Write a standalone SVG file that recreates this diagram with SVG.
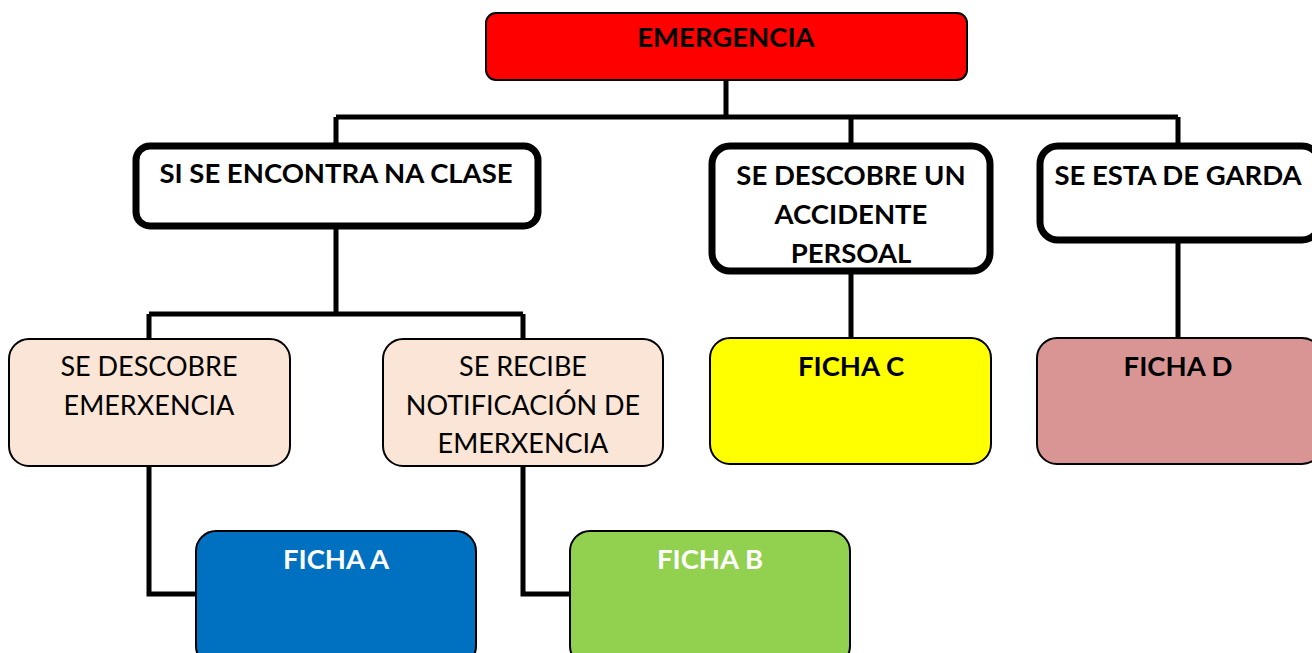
<svg xmlns="http://www.w3.org/2000/svg" width="1312" height="653" viewBox="0 0 1312 653">
<style>
.t{font-family:Lato,"Liberation Sans",sans-serif;font-size:27.5px;text-anchor:middle}
.b{font-weight:bold;fill:#000}
.w{font-weight:bold;fill:#fff}
.r{font-weight:normal;fill:#000;font-size:27px}
.thick{fill:#fff;stroke:#000;stroke-width:7}
.thin{stroke:#000;stroke-width:2}
.conn{fill:none;stroke:#000;stroke-width:5}
</style>
<rect width="1312" height="653" fill="#fff"/>
<g id="connectors">
<path class="conn" d="M726 80 V117 M336 117 H1178 M336 117 V145 M851 117 V145 M1178 117 V145"/>
<path class="conn" d="M336 228 V314 M149 314 H523 M149 314 V340 M523 314 V340"/>
<path class="conn" d="M851 273 V340 M1178 242 V340"/>
<path class="conn" d="M149 466 V594 H198 M523 466 V594 H572"/>
</g>
<g id="emergencia">
<rect x="486" y="13" width="481" height="67" rx="10" fill="#ff0000" class="thin"/>
<text class="t b" x="726" y="47">EMERGENCIA</text>
</g>
<g id="clase">
<rect x="136" y="146" width="402" height="80" rx="14" class="thick"/>
<text class="t b" x="336" y="183">SI SE ENCONTRA NA CLASE</text>
</g>
<g id="accidente">
<rect x="712" y="146" width="278" height="125" rx="18" class="thick"/>
<text class="t b" x="851" y="185">SE DESCOBRE UN</text>
<text class="t b" x="851" y="224">ACCIDENTE</text>
<text class="t b" x="851" y="263">PERSOAL</text>
</g>
<g id="garda">
<rect x="1040" y="146" width="280" height="94" rx="18" class="thick"/>
<text class="t b" x="1178" y="185">SE ESTA DE GARDA</text>
</g>
<g id="descobre">
<rect x="9" y="339" width="281" height="127" rx="20" fill="#fbe5d6" class="thin"/>
<text class="t r" x="149" y="376">SE DESCOBRE</text>
<text class="t r" x="149" y="415">EMERXENCIA</text>
</g>
<g id="recibe">
<rect x="383" y="339" width="280" height="127" rx="20" fill="#fbe5d6" class="thin"/>
<text class="t r" x="523" y="376">SE RECIBE</text>
<text class="t r" x="523" y="415">NOTIFICACIÓN DE</text>
<text class="t r" x="523" y="453">EMERXENCIA</text>
</g>
<g id="fichaC">
<rect x="710" y="338" width="281" height="126" rx="20" fill="#ffff00" class="thin"/>
<text class="t b" x="851" y="376">FICHA C</text>
</g>
<g id="fichaD">
<rect x="1037" y="338" width="285" height="126" rx="20" fill="#d99594" class="thin"/>
<text class="t b" x="1178" y="376">FICHA D</text>
</g>
<g id="fichaA">
<rect x="196" y="531" width="280" height="135" rx="20" fill="#0070c0" class="thin"/>
<text class="t w" x="336" y="569">FICHA A</text>
</g>
<g id="fichaB">
<rect x="570" y="531" width="280" height="135" rx="20" fill="#92d050" class="thin"/>
<text class="t w" x="710" y="569">FICHA B</text>
</g>
</svg>
